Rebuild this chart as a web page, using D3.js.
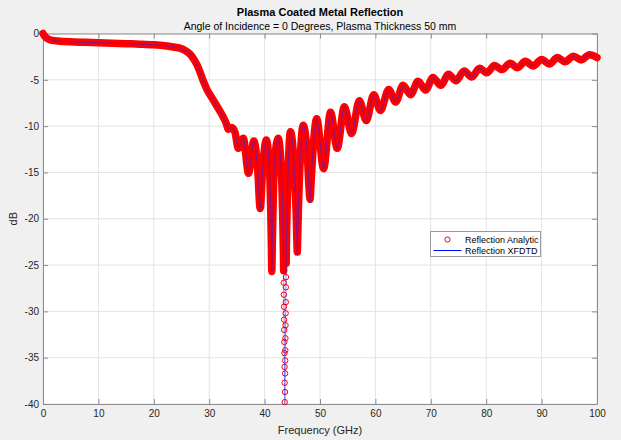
<!DOCTYPE html>
<html>
<head>
<meta charset="utf-8">
<script src="https://cdn.jsdelivr.net/npm/d3@7"></script>
<style>
  body { margin: 0; background: #f0f0f0; }
  svg { display: block; font-family: "Liberation Sans", Arial, sans-serif; }
</style>
</head>
<body>
<div id="chart-area"></div>
<script>
const SVG_WIDTH = 621
const SVG_HEIGHT = 440
const PLOT = { left: 43, top: 33.5, right: 597, bottom: 404 }

// Reflection Analytic, [GHz, dB]
const lowBand = [
  [0, 0], [0.2, -0.2], [0.5, -0.42], [1, -0.62], [2, -0.77], [3, -0.83], [5, -0.9],
  [7.5, -0.95], [10, -1.0], [12.5, -1.05], [15, -1.1], [17.5, -1.15], [20, -1.22],
  [22, -1.32], [23.5, -1.45], [24.7, -1.58], [25.7, -1.85], [26.5, -2.2], [27.2, -2.75],
  [27.8, -3.4]
]
const cutoffSlope = [
  [28.4, -4.25], [28.95, -5.15], [29.6, -6.05], [30.5, -6.95], [31.4, -7.85], [32.0, -8.45],
  [32.6, -9.1], [33.1, -9.75], [33.45, -10.35], [34.05, -10.15], [34.65, -10.65],
  [35.25, -12.4], [36.15, -11.3]
]
const resonanceDips = [
  [37.1, -15.1], [38.05, -11.6], [38.75, -14.6], [39.2, -18.9], [39.65, -14.6], [40.3, -11.5],
  [40.8, -13.8], [41.0, -16.5], [41.12, -19.5], [41.22, -22.8], [41.3, -25.7], [41.4, -22.5],
  [41.5, -19.5], [41.62, -16.5], [41.85, -13.5], [42.45, -11.3],
  [42.95, -14.0], [43.15, -17.0], [43.28, -20.0], [43.36, -22.5], [43.41, -24.2], [43.44, -25.6],
  [43.46, -26.9], [43.48, -28.2], [43.5, -29.5], [43.52, -30.9], [43.54, -32.0], [43.56, -33.3],
  [43.58, -34.5], [43.6, -36.0], [43.62, -37.7], [43.64, -39.8], [43.66, -42.0], [43.68, -38.7],
  [43.7, -36.7], [43.72, -35.3], [43.74, -34.2], [43.76, -32.9], [43.78, -31.5], [43.8, -30.2],
  [43.82, -29.0], [43.84, -27.4], [43.86, -26.3], [43.89, -24.8], [43.94, -22.5], [44.02, -20.0],
  [44.15, -17.0], [44.3, -14.0], [44.65, -10.6],
  [45.2, -13.0], [45.5, -16.5], [45.7, -19.5], [45.82, -22.2], [45.9, -23.6], [45.98, -22.0],
  [46.1, -19.0], [46.3, -15.5], [46.95, -9.9],
  [47.7, -13.0], [48.0, -16.5], [48.2, -17.9], [48.4, -16.0], [48.75, -12.5], [49.4, -9.2],
  [50.65, -14.6], [51.9, -8.5], [53.1, -12.4]
]
const highBand = [
  [54.4, -7.9], [55.7, -10.8], [57.1, -7.25], [58.35, -9.4], [59.7, -6.6], [60.9, -8.3],
  [62.4, -6.05], [63.65, -7.4], [65.0, -5.6], [66.35, -6.6], [67.7, -5.15], [69.05, -6.1],
  [70.4, -4.75], [71.8, -5.6], [73.2, -4.4], [74.55, -5.1], [76.0, -4.05], [77.4, -4.7],
  [78.8, -3.75], [80.1, -4.25], [81.5, -3.45], [82.85, -3.9], [84.3, -3.2], [85.65, -3.7],
  [87.05, -3.0], [88.45, -3.5], [90.0, -2.8], [91.4, -3.3], [92.85, -2.6], [94.2, -3.05],
  [95.75, -2.45], [97.15, -2.85], [98.65, -2.3], [100, -2.6]
]
// XFDTD lies on the analytic trace except at these dip tips
const xfdtdTips = [[45.9, -23.9], [48.2, -18.3]]

const xTicks = [0, 10, 20, 30, 40, 50, 60, 70, 80, 90, 100]
const yTicks = [0, -5, -10, -15, -20, -25, -30, -35, -40]
const legendLabels = ["Reflection Analytic", "Reflection XFDTD"]

const analytic = [...lowBand, ...cutoffSlope, ...resonanceDips, ...highBand]
  .map(([f, db]) => ({ f, db }))
const xfdtd = analytic.map(d => {
  const tip = xfdtdTips.find(t => t[0] === d.f)
  return { f: d.f, db: tip ? tip[1] : d.db }
})

const svg = d3.select("#chart-area").append("svg")
  .attr("width", SVG_WIDTH)
  .attr("height", SVG_HEIGHT)

svg.append("rect")
  .attr("width", SVG_WIDTH).attr("height", SVG_HEIGHT)
  .attr("fill", "#f0f0f0")

const x = d3.scaleLinear().domain([0, 100]).range([PLOT.left, PLOT.right])
const y = d3.scaleLinear().domain([-40, 0]).range([PLOT.bottom, PLOT.top])

const defs = svg.append("defs")
defs.append("clipPath").attr("id", "plot-clip")
  .append("rect")
  .attr("x", PLOT.left).attr("y", PLOT.top)
  .attr("width", PLOT.right - PLOT.left).attr("height", PLOT.bottom - PLOT.top)
defs.append("clipPath").attr("id", "marker-clip")
  .append("rect")
  .attr("x", PLOT.left - 6).attr("y", PLOT.top - 6)
  .attr("width", PLOT.right - PLOT.left + 12).attr("height", PLOT.bottom - PLOT.top + 6)

svg.append("rect")
  .attr("x", PLOT.left).attr("y", PLOT.top)
  .attr("width", PLOT.right - PLOT.left).attr("height", PLOT.bottom - PLOT.top)
  .attr("fill", "#fff")

// grid
svg.append("g").selectAll("line").data(xTicks).join("line")
  .attr("x1", d => x(d)).attr("x2", d => x(d))
  .attr("y1", PLOT.top).attr("y2", PLOT.bottom)
  .attr("stroke", "#e3e3e3")
svg.append("g").selectAll("line").data(yTicks).join("line")
  .attr("x1", PLOT.left).attr("x2", PLOT.right)
  .attr("y1", d => y(d)).attr("y2", d => y(d))
  .attr("stroke", "#e3e3e3")

// axes, ticks pointing inward
function styleAxis(g) {
  g.attr("font-family", null).attr("font-size", 10)
  g.selectAll(".domain, .tick line").attr("stroke", "#8c8c8c")
  g.selectAll(".tick text").attr("fill", "#262626")
}

svg.append("g")
  .attr("transform", `translate(0, ${PLOT.bottom})`)
  .call(d3.axisBottom(x).tickValues(xTicks).tickSizeInner(-5).tickSizeOuter(0).tickPadding(6))
  .call(styleAxis)
svg.append("g")
  .attr("transform", `translate(0, ${PLOT.top})`)
  .call(d3.axisTop(x).tickValues(xTicks).tickSizeInner(-5).tickSizeOuter(0).tickFormat(""))
  .call(styleAxis)
svg.append("g")
  .attr("transform", `translate(${PLOT.left}, 0)`)
  .call(d3.axisLeft(y).tickValues(yTicks).tickSizeInner(-5).tickSizeOuter(0).tickPadding(4)
    .tickFormat(d => String(d)))
  .call(styleAxis)
svg.append("g")
  .attr("transform", `translate(${PLOT.right}, 0)`)
  .call(d3.axisRight(y).tickValues(yTicks).tickSizeInner(-5).tickSizeOuter(0).tickFormat(""))
  .call(styleAxis)

// analytic markers: dense circles merge into a band, single rings show in the deep dip
const lineGen = d3.line()
  .x(d => x(d.f))
  .y(d => y(d.db))
  .curve(d3.curveMonotoneX)

svg.append("path")
  .attr("clip-path", "url(#marker-clip)")
  .attr("d", lineGen.defined(d => d.db > -26)(analytic))
  .attr("fill", "none")
  .attr("stroke", "#ff0000")
  .attr("stroke-width", 7.5)
  .attr("stroke-linecap", "round")
  .attr("stroke-linejoin", "round")

svg.append("g").selectAll("circle")
  .data(analytic.filter(d => d.db >= -40))
  .join("circle")
  .attr("cx", d => x(d.f))
  .attr("cy", d => y(d.db))
  .attr("r", 2.7)
  .attr("fill", "none")
  .attr("stroke", "#ff0000")
  .attr("stroke-width", 1)

svg.append("path")
  .attr("clip-path", "url(#plot-clip)")
  .attr("d", lineGen.defined(() => true)(xfdtd))
  .attr("fill", "none")
  .attr("stroke", "#2020ff")
  .attr("stroke-opacity", 0.75)
  .attr("stroke-width", 0.7)

// titles
const midX = (PLOT.left + PLOT.right) / 2
svg.append("text")
  .attr("x", midX).attr("y", 16)
  .attr("text-anchor", "middle")
  .attr("font-size", 11).attr("font-weight", "bold")
  .attr("fill", "#000")
  .text("Plasma Coated Metal Reflection")
svg.append("text")
  .attr("x", midX).attr("y", 29.5)
  .attr("text-anchor", "middle")
  .attr("font-size", 10.5)
  .attr("fill", "#000")
  .text("Angle of Incidence = 0 Degrees, Plasma Thickness 50 mm")
svg.append("text")
  .attr("x", midX).attr("y", 434)
  .attr("text-anchor", "middle")
  .attr("font-size", 11)
  .attr("fill", "#262626")
  .text("Frequency (GHz)")
svg.append("text")
  .attr("transform", `translate(17, ${(PLOT.top + PLOT.bottom) / 2}) rotate(-90)`)
  .attr("text-anchor", "middle")
  .attr("font-size", 11)
  .attr("fill", "#262626")
  .text("dB")

// legend
const legend = svg.append("g").attr("transform", "translate(430.5, 231.5)")
legend.append("rect")
  .attr("width", 110).attr("height", 25)
  .attr("fill", "#fff").attr("stroke", "#999")
legend.append("circle")
  .attr("cx", 17).attr("cy", 8)
  .attr("r", 2.6)
  .attr("fill", "none").attr("stroke", "#ff0000")
legend.append("line")
  .attr("x1", 3).attr("x2", 31).attr("y1", 19).attr("y2", 19)
  .attr("stroke", "#0000ff")
legend.selectAll("text").data(legendLabels).join("text")
  .attr("x", 34.5)
  .attr("y", (d, i) => 11 + i * 11)
  .attr("font-size", 9)
  .attr("fill", "#000")
  .text(d => d)
</script>
</body>
</html>
